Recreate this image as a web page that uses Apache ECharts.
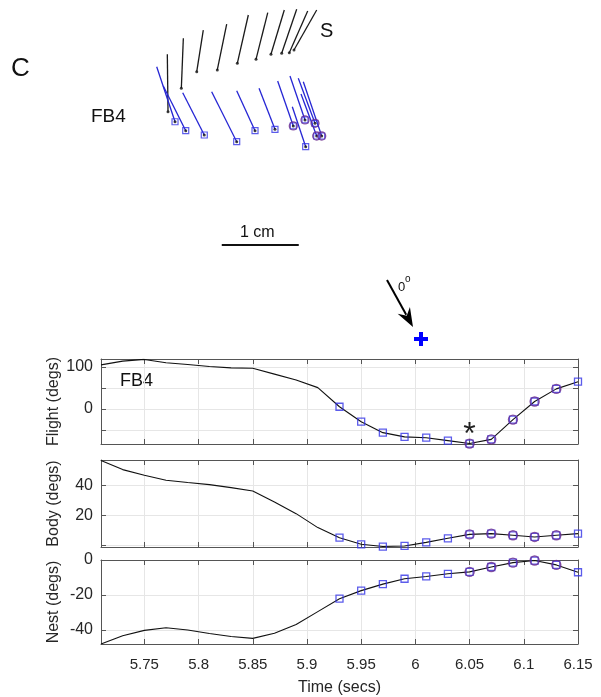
<!DOCTYPE html>
<html><head><meta charset="utf-8">
<script src="https://cdn.jsdelivr.net/npm/echarts@6/dist/echarts.min.js"></script>
<style>html,body{margin:0;padding:0;background:#fff}#c{width:601px;height:697px}</style>
</head><body><div id="c"></div>
<script>
// ---------- time series data ----------
const time   = [5.71,5.73,5.75,5.77,5.79,5.81,5.83,5.85,5.87,5.89,5.91,5.93,5.95,5.97,5.99,6.01,6.03,6.05,6.07,6.09,6.11,6.13,6.15];
const flight = [105,114,118,110,106,101,98,97,83,69,51,5.5,-30,-56,-66,-68,-75,-82,-72,-25,18,48,65];
const body   = [56.5,50.4,46.7,43.3,41.8,40.4,38.4,36.2,28.9,21.1,11.8,5.1,0.7,-0.8,-0.4,2,4.7,7.3,7.8,6.7,5.6,6.7,7.8];
const nest   = [-48,-43.3,-40.2,-38.7,-40,-42,-43.7,-44.8,-41.9,-36.9,-29.5,-22.1,-17.5,-13.8,-10.7,-9.4,-7.9,-6.8,-4.0,-1.5,-0.3,-2.8,-7.0];
const squareTimes = [5.93,5.95,5.97,5.99,6.01,6.03,6.05,6.07,6.09,6.11,6.13,6.15];
const circleTimes = [6.05,6.07,6.09,6.11,6.13];
const asteriskTime = 6.05, asteriskFlight = -43;

// ---------- tick labels ----------
const xTicks = [5.75,5.8,5.85,5.9,5.95,6,6.05,6.1,6.15];
const flightTicks = [-50,0,50,100], flightLabels = [0,100];
const bodyTicks = [0,20,40], bodyLabels = [20,40];
const nestTicks = [-40,-20,0], nestLabels = [-40,-20,0];

// ---------- vector diagram (cm) ----------
const sTopX = [2.173,2.381,2.640,2.944,3.225,3.477,3.692,3.853,3.996,4.113];
const sTopY = [2.795,3.003,3.110,3.188,3.305,3.335,3.370,3.379,3.357,3.370];
const sBotX = [2.182,2.355,2.555,2.822,3.082,3.325,3.519,3.658,3.757,3.818];
const sBotY = [2.049,2.353,2.569,2.591,2.678,2.730,2.795,2.808,2.816,2.851];
const fTopX = [2.035,2.121,2.373,2.749,3.074,3.364,3.606,3.766,3.874,3.909,3.939,3.796];
const fTopY = [2.634,2.383,2.296,2.309,2.322,2.353,2.448,2.513,2.483,2.279,2.439,2.114];
const fBotX = [2.273,2.412,2.653,3.074,3.312,3.571,3.809,3.961,4.091,4.113,4.178,3.970];
const fBotY = [1.919,1.803,1.747,1.660,1.803,1.821,1.864,1.942,1.899,1.734,1.734,1.595];
const fCircled = [6,7,8,9,10];
const scaleBarX = [2.88,3.88], scaleBarY = 0.32;

// ---------- styles ----------
const FONT = '"Liberation Sans", Arial, Helvetica, sans-serif';
const axisCol = '#555';
const txtCol = '#262626';
const gridCol = '#e6e6e6';
const sqCol = '#3333e6';
const ciCol = '#6a2a8c';
const xMin = 5.71, xMax = 6.15;

const chart = echarts.init(document.getElementById('c'), null, {renderer:'canvas'});

const panels = [
  {top:359, height:85, y:flight, min:-83, max:119, ticks:flightTicks, labels:flightLabels, name:'Flight (degs)'},
  {top:460, height:87, y:body, min:-1.1, max:56.8, ticks:bodyTicks, labels:bodyLabels, name:'Body (degs)'},
  {top:560, height:87, y:nest, min:-48, max:0, ticks:nestTicks, labels:nestLabels, name:'Nest (degs)'}
];

const grid = [{left:0, top:0, width:539, height:269.5}];
const xAxis = [{type:'value', gridIndex:0, min:0, max:7, show:false}];
const yAxis = [{type:'value', gridIndex:0, min:0, max:3.5, show:false}];
const series = [];

panels.forEach((p, k) => {
  const g = k + 1;
  grid.push({left:101, top:p.top, width:477, height:p.height});
  const isLast = k === panels.length - 1;
  const tick = {inside:true, length:5, customValues:xTicks, lineStyle:{color:axisCol, width:1}};
  xAxis.push({
    type:'value', gridIndex:g, min:xMin, max:xMax, position:'bottom',
    axisLine:{onZero:false, lineStyle:{color:axisCol, width:1}},
    axisTick:tick,
    axisLabel:{show:isLast, customValues:xTicks, margin:13, fontFamily:FONT, fontSize:15, color:txtCol,
               formatter:v => String(+(+v).toFixed(2))},
    splitLine:{show:true, lineStyle:{color:gridCol, width:1}},
    name: isLast ? 'Time (secs)' : '', nameLocation:'middle', nameGap:36, nameMoveOverlap:false,
    nameTextStyle:{fontFamily:FONT, fontSize:16, color:txtCol}
  });
  xAxis.push({
    type:'value', gridIndex:g, min:xMin, max:xMax, position:'top',
    axisLine:{onZero:false, lineStyle:{color:axisCol, width:1}},
    axisTick:tick, axisLabel:{show:false}, splitLine:{show:false}
  });
  const ytick = {inside:true, length:5, customValues:p.ticks, lineStyle:{color:axisCol, width:1}};
  yAxis.push({
    type:'value', gridIndex:g, min:p.min, max:p.max, position:'left',
    axisLine:{show:true, onZero:false, lineStyle:{color:axisCol, width:1}},
    axisTick:ytick,
    axisLabel:{customValues:p.labels, margin:8, fontFamily:FONT, fontSize:16, color:txtCol},
    splitLine:{show:true, lineStyle:{color:gridCol, width:1}},
    name:p.name, nameLocation:'middle', nameGap:39, nameRotate:90, nameMoveOverlap:false,
    nameTextStyle:{fontFamily:FONT, fontSize:16, color:txtCol}
  });
  yAxis.push({
    type:'value', gridIndex:g, min:p.min, max:p.max, position:'right',
    axisLine:{show:true, onZero:false, lineStyle:{color:axisCol, width:1}},
    axisTick:ytick, axisLabel:{show:false}, splitLine:{show:false}
  });
  const xi = 2*k + 1, yi = 2*k + 1;
  const pts = time.map((t, i) => [t, p.y[i]]);
  series.push({
    type:'line', xAxisIndex:xi, yAxisIndex:yi, data:pts, showSymbol:false, symbol:'none',
    lineStyle:{color:'#111', width:1.1}, silent:true, z:2
  });
  const sq = {
    type:'scatter', xAxisIndex:xi, yAxisIndex:yi, symbol:'rect', symbolSize:7,
    data:pts.filter(d => squareTimes.includes(d[0])),
    itemStyle:{color:'rgba(0,0,0,0)', borderColor:sqCol, borderWidth:1.3}, z:3
  };
  if (k === 0) {
    sq.markPoint = {
      symbol:'circle', symbolSize:0,
      data:[{coord:[asteriskTime, asteriskFlight]}],
      label:{show:true, formatter:'*', fontFamily:FONT, fontSize:32, color:'#222', offset:[0,8]}
    };
  }
  series.push(sq);
  series.push({
    type:'scatter', xAxisIndex:xi, yAxisIndex:yi, symbol:'circle', symbolSize:9,
    data:pts.filter(d => circleTimes.includes(d[0])),
    itemStyle:{color:'rgba(0,0,0,0)', borderColor:ciCol, borderWidth:1.4}, z:4
  });
});

// diagram series
series.push({
  type:'lines', coordinateSystem:'cartesian2d', xAxisIndex:0, yAxisIndex:0,
  data:sTopX.map((x, i) => ({coords:[[x, sTopY[i]], [sBotX[i], sBotY[i]]]})),
  lineStyle:{color:'#1a1a1a', width:1.3, opacity:1}, silent:true
});
series.push({
  type:'scatter', xAxisIndex:0, yAxisIndex:0, symbol:'circle', symbolSize:3,
  data:sBotX.map((x, i) => [x, sBotY[i]]), itemStyle:{color:'#111'}
});
series.push({
  type:'lines', coordinateSystem:'cartesian2d', xAxisIndex:0, yAxisIndex:0,
  data:fTopX.map((x, i) => ({coords:[[x, fTopY[i]], [fBotX[i], fBotY[i]]]})),
  lineStyle:{color:'#2626d4', width:1.3, opacity:1}, silent:true
});
series.push({
  type:'scatter', xAxisIndex:0, yAxisIndex:0, symbol:'rect', symbolSize:6,
  data:fBotX.map((x, i) => [x, fBotY[i]]),
  itemStyle:{color:'rgba(0,0,0,0)', borderColor:sqCol, borderWidth:1.2}
});
series.push({
  type:'scatter', xAxisIndex:0, yAxisIndex:0, symbol:'circle', symbolSize:3,
  data:fBotX.map((x, i) => [x, fBotY[i]]), itemStyle:{color:'#111'}
});
series.push({
  type:'scatter', xAxisIndex:0, yAxisIndex:0, symbol:'circle', symbolSize:8,
  data:fCircled.map(i => [fBotX[i], fBotY[i]]),
  itemStyle:{color:'rgba(0,0,0,0)', borderColor:ciCol, borderWidth:1.3}
});
series.push({
  type:'lines', coordinateSystem:'cartesian2d', xAxisIndex:0, yAxisIndex:0,
  data:[{coords:[[scaleBarX[0], scaleBarY], [scaleBarX[1], scaleBarY]]}],
  lineStyle:{color:'#111', width:2, opacity:1}, silent:true
});

// arrow geometry (annotation)
const T = [413, 327], U = [0.484, 0.875], N = [-0.875, 0.484];
const head = [T,
  [T[0]-19*U[0]+7*N[0], T[1]-19*U[1]+7*N[1]],
  [T[0]-13*U[0], T[1]-13*U[1]],
  [T[0]-19*U[0]-7*N[0], T[1]-19*U[1]-7*N[1]]];

const txt = (x, y, s, size, extra) => Object.assign({
  type:'text', x, y, style:{text:s, fontFamily:FONT, fontSize:size, fill:'#111', textVerticalAlign:'middle'}
}, extra || {});

chart.setOption({
  animation:false,
  backgroundColor:'#fff',
  grid, xAxis, yAxis, series,
  graphic:[
    txt(11, 69, 'C', 26),
    txt(91, 117, 'FB4', 19),
    txt(320, 31, 'S', 20),
    txt(240, 233, '1 cm', 16),
    txt(120, 381, 'FB4', 18),
    txt(398, 287, '0', 13),
    txt(405, 279, 'o', 10),
    {type:'polyline', shape:{points:[[387,280],[T[0]-14*U[0], T[1]-14*U[1]]]}, style:{stroke:'#000', lineWidth:2}},
    {type:'polygon', shape:{points:head}, style:{fill:'#000'}},
    {type:'line', shape:{x1:414, y1:339, x2:428, y2:339}, style:{stroke:'#0000ff', lineWidth:4}},
    {type:'line', shape:{x1:421, y1:332, x2:421, y2:346}, style:{stroke:'#0000ff', lineWidth:4}}
  ]
});
</script></body></html>
